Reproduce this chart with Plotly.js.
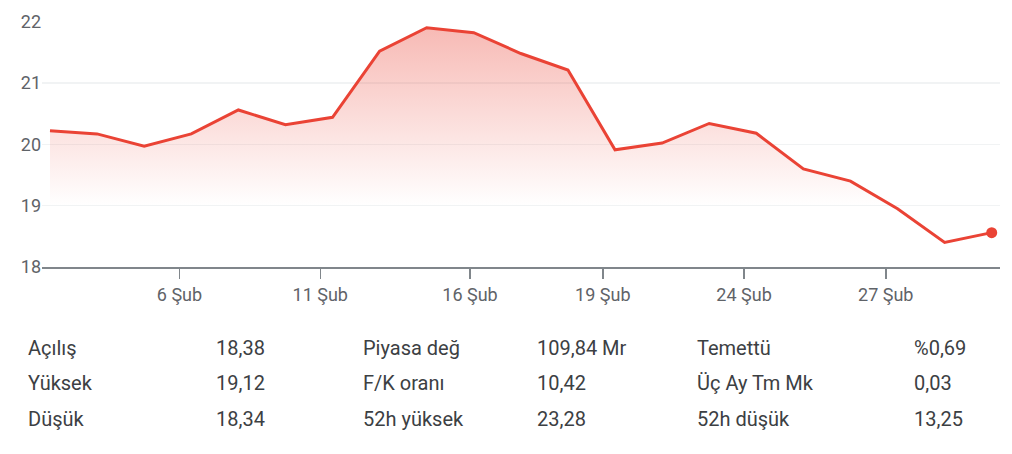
<!DOCTYPE html>
<html><head><meta charset="utf-8">
<script src="https://cdn.plot.ly/plotly-3.0.1.min.js"></script>
<style>html,body{margin:0;padding:0;background:#fff;overflow:hidden}#chart{width:1012px;height:454px}</style>
</head><body><div id="chart"></div>
<script>
// Trading-day index and closing prices
const dayIndex = [0,1,2,3,4,5,6,7,8,9,10,11,12,13,14,15,16,17,18,19,20];
const prices = [20.22,20.17,19.97,20.17,20.56,20.32,20.44,21.52,21.90,21.82,21.48,21.21,19.91,20.02,20.34,20.18,19.60,19.40,18.95,18.40,18.56];
const tickPositions = [2.75,5.74,8.92,11.74,14.74,17.75];
const tickLabels = ['6 Şub','11 Şub','16 Şub','19 Şub','24 Şub','27 Şub'];
const yTicks = [18,19,20,21,22];

// Stats table
const statLabelsA = ['Açılış','Yüksek','Düşük'];
const statValuesA = ['18,38','19,12','18,34'];
const statLabelsB = ['Piyasa değ','F/K oranı','52h yüksek'];
const statValuesB = ['109,84 Mr','10,42','23,28'];
const statLabelsC = ['Temettü','Üç Ay Tm Mk','52h düşük'];
const statValuesC = ['%0,69','0,03','13,25'];

const RED = '#ea4335';
const L = 42, R = 12, T = 21, B = 187, W = 1012, H = 454;
const pw = W - L - R, ph = H - T - B;
const px2paperX = p => (p - L) / pw;
const px2paperY = p => (H - B - p) / ph;

const colX = [[26,214],[360.7,535],[694.7,912]];
const rowY = [347.7,383.3,419];
const tables = [[statLabelsA,statValuesA],[statLabelsB,statValuesB],[statLabelsC,statValuesC]];
const annotations = [];
tables.forEach((tbl, c) => {
  tbl.forEach((arr, k) => {
    arr.forEach((txt, r) => {
      annotations.push({
        text: txt, xref: 'paper', yref: 'paper',
        x: px2paperX(colX[c][k]), y: px2paperY(rowY[r]),
        xanchor: 'left', yanchor: 'middle', showarrow: false,
        font: {family: 'Roboto, sans-serif', size: 20, color: '#3c4043'}
      });
    });
  });
});

const last = dayIndex.length - 1;
const data = [
  {
    x: dayIndex, y: prices, type: 'scatter', mode: 'lines',
    line: {color: RED, width: 3},
    fill: 'tozeroy',
    fillgradient: {type: 'vertical', start: 19, stop: 22,
      colorscale: [[0, 'rgba(234,67,53,0)'], [1, 'rgba(234,67,53,0.38)']]},
    hoverinfo: 'skip'
  },
  {
    x: [dayIndex[last]], y: [prices[last]], type: 'scatter', mode: 'markers',
    marker: {color: RED, size: 11}, hoverinfo: 'skip'
  }
];

const layout = {
  width: W, height: H,
  margin: {l: L, r: R, t: T, b: B, pad: 0},
  paper_bgcolor: '#fff', plot_bgcolor: '#fff',
  showlegend: false,
  font: {family: 'Roboto, sans-serif'},
  xaxis: {
    range: [-0.17, 20.176], showgrid: false, zeroline: false,
    showline: true, linecolor: '#80868b', linewidth: 2,
    tickmode: 'array', tickvals: tickPositions, ticktext: tickLabels,
    ticks: 'outside', ticklen: 10, tickwidth: 1.5, tickcolor: '#80868b',
    tickfont: {family: 'Roboto, sans-serif', size: 18, color: '#5f6368'}
  },
  yaxis: {
    range: [18, 22.01], showgrid: true, gridcolor: '#f1f3f4', gridwidth: 1.5,
    zeroline: false, showline: false, ticks: '',
    tickmode: 'array', tickvals: yTicks, ticktext: yTicks.map(String),
    ticklabelstandoff: 0,
    tickfont: {family: 'Roboto, sans-serif', size: 18, color: '#5f6368'}
  },
  annotations: annotations
};
Plotly.newPlot('chart', data, layout, {staticPlot: true, displayModeBar: false});
</script></body></html>
